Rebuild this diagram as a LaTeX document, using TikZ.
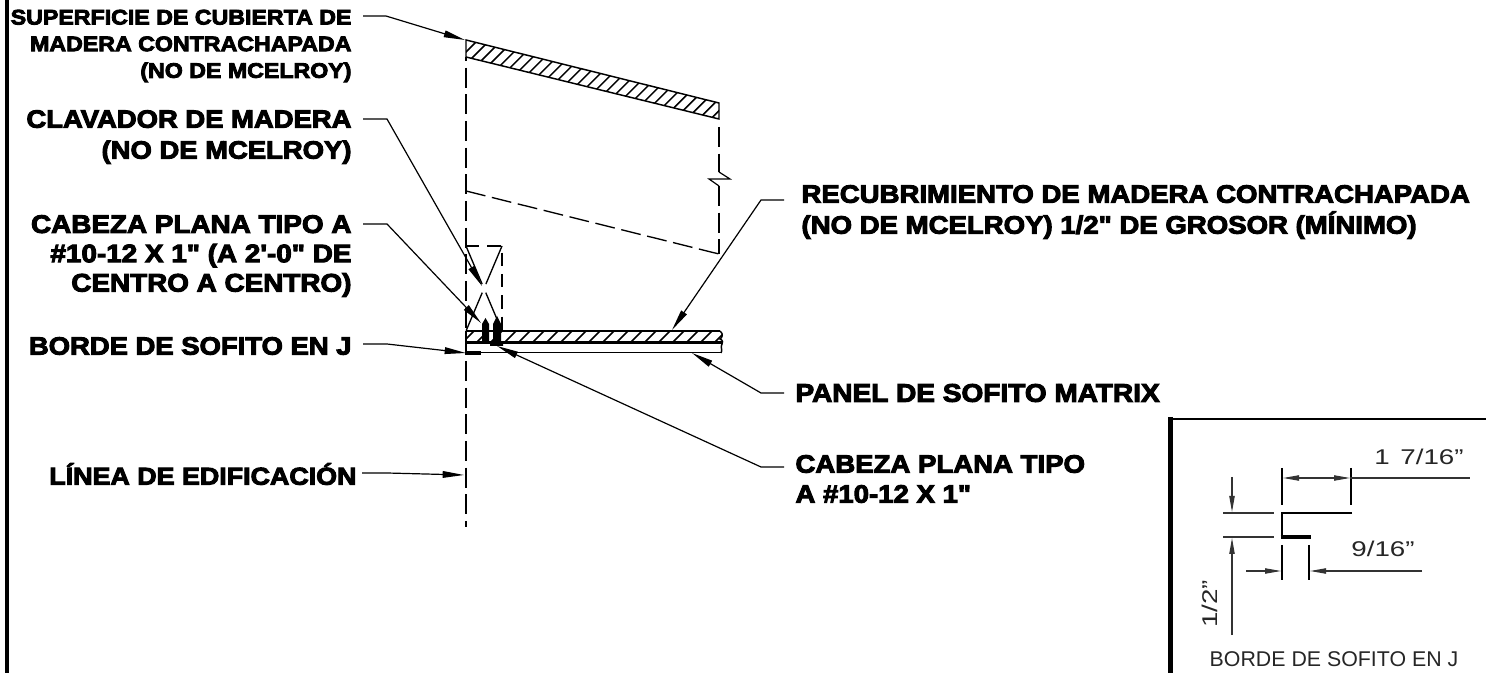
\documentclass[tikz,border=0pt]{standalone}
\usepackage{fontspec}
\setmainfont{Liberation Sans}
\newfontfamily\heavyfont{Liberation Sans}[BoldFeatures={FakeBold=4,FakeStretch=1.1}]
\newfontfamily\cadfont{Liberation Sans}[FakeStretch=1.3]
\usetikzlibrary{arrows.meta}

\tikzset{every picture/.style={line width=0.75pt}}
\tikzset{
  callout/.style={anchor=east,inner sep=0.75pt,align=right,text=black},
  calloutleft/.style={anchor=west,inner sep=0.75pt,align=left,text=black},
  leader/.style={line width=0.9pt,-{Triangle[length=16,width=5]}},
  breakline/.style={line width=1pt,dash pattern=on 15pt off 5pt},
  hatchline/.style={line width=1.1pt},
  dimline/.style={line width=0.8pt,black!80},
  dimtick/.style={line width=1pt},
  dimarrow/.style={line width=0.8pt,black!80,-{Triangle[length=12,width=4]}},
  dimtext/.style={inner sep=0.75pt,font=\cadfont\fontsize{16}{16}\selectfont,text=black!85},
}
\newcommand{\lblfont}[2]{\fontsize{#1}{#2}\selectfont\heavyfont\bfseries}

\begin{document}
\begin{tikzpicture}[x=0.75pt,y=0.75pt,yscale=-1,xscale=1]

\useasboundingbox (0,0) rectangle (1486,673);

% outer frame stub
\draw [line width=3pt]  (6.5,0) -- (6.5,673) ;

% roof deck
\draw [hatchline]  (466,40) -- (719,103) -- (719,119) -- (466,57) -- cycle ;
\begin{scope}
\clip (466,40) -- (719,103) -- (719,119) -- (466,57) -- cycle ;
\foreach \k in {0,...,27} {
  \draw [hatchline]  ({456+9.6*\k},{62+2.39*\k}) -- ({480+9.6*\k},{38+2.39*\k}) ;
}
\end{scope}

% hidden lines
\draw [breakline,dash phase=-8pt]  (466,57) -- (466,527) ;
\draw [breakline]  (466,191) -- (719,254) ;
\draw [breakline]  (719,127) -- (719,172) ;
\draw [line width=0.9pt]  (719,172) -- (730,179) -- (709,179) -- (719,186) ;
\draw [breakline]  (719,186) -- (719,254) ;

% wood nailer
\draw [breakline,dash pattern=on 10pt off 6pt]  (466,246) -- (502,246) -- (502,331) ;
\draw [breakline,dash pattern=on 31pt off 7pt]  (502,246) -- (466,331) ;
\draw [breakline,dash pattern=on 31pt off 7pt]  (466,246) -- (502,331) ;

% sheathing and soffit panel
\fill [white]  (466,331) rectangle (720,343) ;
\draw [hatchline]  (466,331) -- (720,331) ;
\draw [line width=1.8pt]  (466,342.5) -- (722,342.5) ;
\begin{scope}
\clip (466,331) rectangle (722,343) ;
\foreach \k in {0,...,18} {
  \draw [hatchline]  ({462+14*\k},343) -- ({474+14*\k},331) ;
}
\end{scope}
\draw [hatchline]  (720,331) .. controls (724,334) and (722,338) .. (720,339) .. controls (723,340) and (723,343) .. (722,344) .. controls (720,347) and (723,350) .. (721,353) ;
\draw [line width=1.2pt]  (466,352.5) -- (721,352.5) ;

% J trim
\draw [line width=2.2pt]  (466,331) -- (466,353) ;
\draw [line width=3.4pt]  (465,353) -- (481,353) ;

% screws
\fill (482,343) -- (482,324) -- (485.5,318) -- (489,324) -- (489,343) -- cycle ;
\fill (490,346) -- (490,342) -- (493,342) -- (493,324) -- (497,316) -- (501,324) -- (501,342) -- (503,342) -- (503,346) -- cycle ;

% labels
\node (lblDeck) at (353,46) [callout,font=\lblfont{15.8}{20}] {SUPERFICIE DE CUBIERTA DE\\MADERA CONTRACHAPADA\\(NO DE MCELROY)};
\node (lblNailer) at (353,137) [callout,font=\lblfont{18.7}{23.2}] {CLAVADOR DE MADERA\\(NO DE MCELROY)};
\node (lblScrewA) at (353,256) [callout,font=\lblfont{19}{22}] {CABEZA PLANA TIPO A\\\#10-12 X 1" (A 2'-0" DE\\CENTRO A CENTRO)};
\node (lblTrim) at (353,346) [callout,font=\lblfont{18.7}{20}] {BORDE DE SOFITO EN J};
\node (lblLine) at (358,474) [callout,font=\lblfont{18.3}{20}] {LÍNEA DE EDIFICACIÓN};
\node (lblSheath) at (800,212) [calloutleft,font=\lblfont{18.8}{23.2}] {RECUBRIMIENTO DE MADERA CONTRACHAPADA\\(NO DE MCELROY) 1/2" DE GROSOR (MÍNIMO)};
\node (lblPanel) at (794,393) [calloutleft,font=\lblfont{19.1}{20}] {PANEL DE SOFITO MATRIX};
\node (lblScrewB) at (794,479) [calloutleft,font=\lblfont{18.8}{22.5}] {CABEZA PLANA TIPO\\A \#10-12 X 1"};

% leader ends
\coordinate (deckStart) at (363,16);
\coordinate (deckKnee) at (386,16);
\coordinate (deckTip) at (465,40);
\coordinate (nailerStart) at (363,119);
\coordinate (nailerKnee) at (387,119);
\coordinate (nailerTip) at (482,286);
\coordinate (screwStart) at (363,224);
\coordinate (screwKnee) at (387,224);
\coordinate (screwTip) at (481,323);
\coordinate (trimStart) at (363,344);
\coordinate (trimKnee) at (387,344);
\coordinate (trimTip) at (466,353);
\coordinate (lineStart) at (362,473);
\coordinate (lineKnee) at (387,473);
\coordinate (lineTip) at (464,475);
\coordinate (sheathStart) at (784,200);
\coordinate (sheathKnee) at (761,200);
\coordinate (sheathTip) at (672,330);
\coordinate (panelStart) at (784,393);
\coordinate (panelKnee) at (761,393);
\coordinate (panelTip) at (692,353);
\coordinate (screwBStart) at (784,467);
\coordinate (screwBKnee) at (761,467);
\coordinate (screwBTip) at (497,346);

\draw [leader]  (deckStart) -- (deckKnee) -- (deckTip) ;
\draw [leader]  (nailerStart) -- (nailerKnee) -- (nailerTip) ;
\draw [leader]  (screwStart) -- (screwKnee) -- (screwTip) ;
\draw [leader]  (trimStart) -- (trimKnee) -- (trimTip) ;
\draw [leader]  (lineStart) -- (lineKnee) -- (lineTip) ;
\draw [leader]  (sheathStart) -- (sheathKnee) -- (sheathTip) ;
\draw [leader]  (panelStart) -- (panelKnee) -- (panelTip) ;
\draw [leader]  (screwBStart) -- (screwBKnee) -- (screwBTip) ;

% inset
\draw [line width=2.2pt]  (1168,419) -- (1486,419) ;
\draw [line width=3.75pt]  (1170.5,417) -- (1170.5,673) ;

\draw [line width=2.2pt]  (1352,513) -- (1282,513) -- (1282,537) ;
\draw [line width=3.6pt]  (1280.5,537) -- (1311,537) ;

\coordinate (dimTopLeft) at (1283,478);
\coordinate (dimTopRight) at (1350,478);
\draw [dimtick]  (1282,468) -- (1282,505) ;
\draw [dimtick]  (1351,468) -- (1351,505) ;
\draw [dimline,{Triangle[length=12,width=4]}-{Triangle[length=12,width=4]}]  (dimTopLeft) -- (dimTopRight) ;
\draw [dimline]  (dimTopRight) -- (1470,478) ;
\node (dimWide) at (1419,457) [dimtext] {1\hspace{0.5em}7/16”};

\draw [dimtick]  (1282,545) -- (1282,580) ;
\draw [dimtick]  (1309,545) -- (1309,580) ;
\coordinate (dimLow) at (1246,571);
\coordinate (dimLowA) at (1281,571);
\coordinate (dimLowB) at (1310,571);
\coordinate (dimLowEnd) at (1422,571);
\draw [dimarrow]  (dimLow) -- (dimLowA) ;
\draw [dimarrow]  (dimLowEnd) -- (dimLowB) ;
\node (dimNarrow) at (1383,549) [dimtext] {9/16”};

\draw [dimline]  (1223,513) -- (1274,513) ;
\draw [dimline]  (1223,537) -- (1274,537) ;
\coordinate (dimUp) at (1232,477);
\coordinate (dimUpTip) at (1232,512);
\coordinate (dimDown) at (1232,635);
\coordinate (dimDownTip) at (1232,538);
\draw [dimarrow]  (dimUp) -- (dimUpTip) ;
\draw [dimarrow]  (dimDown) -- (dimDownTip) ;
\node (dimHigh) at (1210,604) [dimtext,rotate=90] {1/2”};

\node (lblInset) at (1334,659) [inner sep=0.75pt,font=\fontsize{16}{16}\selectfont,text=black!85] {BORDE DE SOFITO EN J};

\end{tikzpicture}
\end{document}
